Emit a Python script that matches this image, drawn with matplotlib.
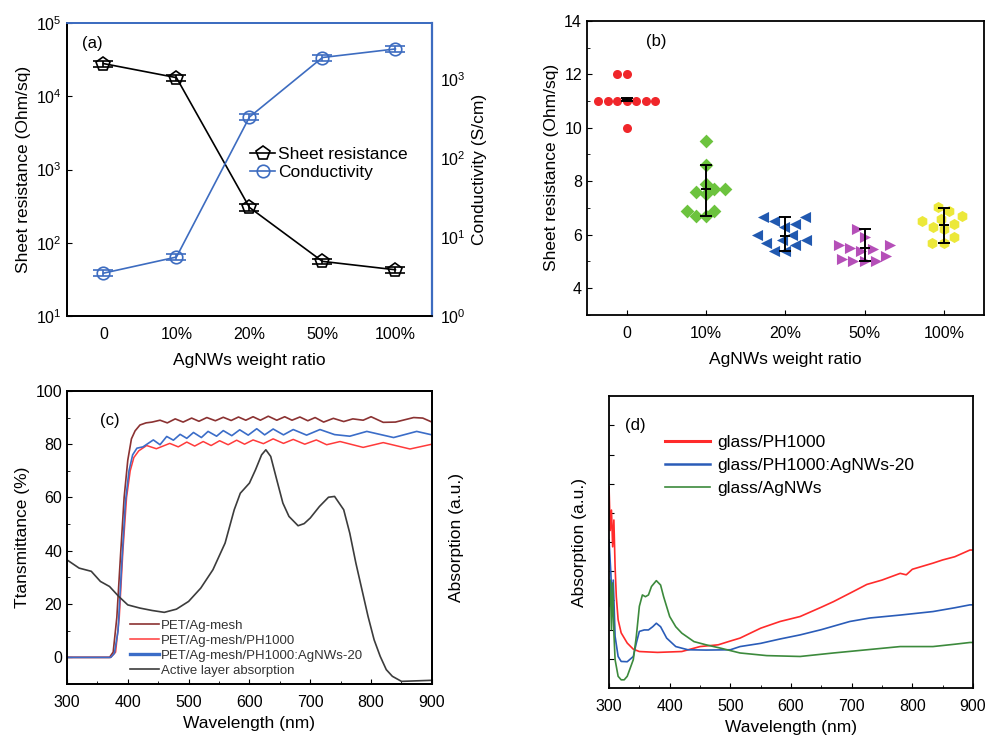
import numpy as np
import matplotlib
matplotlib.use('Agg')
import matplotlib.pyplot as plt
from matplotlib.ticker import MultipleLocator, NullLocator
from matplotlib.lines import Line2D
import seaborn as sns

plt.rcParams['font.family'] = ['Liberation Sans', 'DejaVu Sans']
plt.rcParams['axes.linewidth'] = 1.3
plt.rcParams['xtick.direction'] = 'in'
plt.rcParams['ytick.direction'] = 'in'
plt.rcParams['xtick.labelsize'] = 11.5
plt.rcParams['ytick.labelsize'] = 11.5
plt.rcParams['axes.labelsize'] = 12.5

# ---- (a) sheet resistance / conductivity vs AgNWs ratio ----
ratio_labels = ['0', '10%', '20%', '50%', '100%']
sheet_res = [2.8e4, 1.8e4, 305, 56, 43]
sheet_res_err = [2500, 1600, 30, 5, 4]
conductivity = [3.5, 5.6, 330, 1870, 2400]
conductivity_err = [0.3, 0.5, 30, 170, 220]

# ---- (b) sheet resistance distribution ----
sr_0 = [11, 11, 11, 11, 11, 11, 11, 12, 12, 10]
sr_10 = [9.5, 8.6, 7.9, 7.7, 7.7, 7.6, 7.5, 6.9, 6.9, 6.7, 6.7]
sr_20 = [6.65, 6.65, 6.5, 6.4, 6.3, 6.0, 6.0, 5.8, 5.8, 5.7, 5.6, 5.4, 5.4]
sr_50 = [6.2, 5.9, 5.6, 5.6, 5.5, 5.45, 5.4, 5.2, 5.1, 5.0, 5.0, 5.0]
sr_100 = [7.05, 6.9, 6.7, 6.6, 6.5, 6.4, 6.3, 6.2, 5.9, 5.7, 5.7]
bar_center = [11.05, 7.7, 5.95, 5.5, 6.35]
bar_low = [11.0, 6.7, 5.4, 5.0, 5.7]
bar_high = [11.1, 8.6, 6.65, 6.2, 7.0]

# ---- (c) transmittance spectra + active layer absorption ----
mesh_wl = [300, 370, 376, 382, 388, 394, 400, 406, 412, 420, 430, 440, 453, 465, 478, 491,
           505, 517, 530, 544, 557, 570, 582, 594, 606, 618, 631, 645, 658, 670, 683, 696,
           708, 722, 738, 755, 770, 787, 800, 820, 840, 870, 885, 900]
mesh_T = [0, 0, 2, 15, 38, 60, 74, 82, 85, 87.2, 88, 88.3, 89, 88, 89.5, 88.3,
          89.8, 88.6, 90, 88.8, 90.1, 88.9, 90.2, 89, 90.3, 89, 90.5, 89, 90.3, 89, 90.2, 88.8,
          90, 88.3, 89.7, 88.5, 89.5, 89, 90.3, 88.2, 88.3, 90, 89.8, 88.3]
ph_wl = [300, 372, 380, 386, 392, 398, 404, 410, 418, 431, 447, 469, 483, 497, 510, 524,
         537, 551, 565, 579, 592, 606, 623, 639, 656, 672, 691, 710, 727, 749, 787, 820,
         864, 900]
ph_T = [0, 0, 2, 15, 40, 60, 70, 75, 77.5, 79.5, 78.3, 80.3, 79, 80.8, 79.3, 81,
        79.5, 81.3, 79.8, 81.5, 80, 81.6, 80.2, 82, 80.3, 81.8, 80, 81.6, 79.8, 81, 78.8, 80.6,
        78.2, 80]
nw_wl = [300, 372, 378, 384, 390, 396, 402, 408, 415, 425, 442, 453, 464, 475, 486, 497,
         508, 521, 532, 546, 557, 571, 584, 598, 612, 625, 639, 656, 672, 694, 716, 740,
         765, 793, 837, 875, 900]
nw_T = [0, 0, 1.5, 10, 35, 58, 70, 76, 78.5, 79, 81.6, 79.8, 82.9, 81.5, 83.7, 82.2,
        84.4, 82.5, 84.8, 83, 85.1, 83.2, 85.4, 83.4, 85.8, 83.5, 85.7, 83.5, 85.5, 83.4, 85.5, 83.6,
        83, 84.8, 82.5, 84.8, 83.5]
abs_wl = [300, 320, 340, 355, 370, 385, 400, 420, 440, 460, 480, 500, 520, 540, 560, 575,
          585, 600, 610, 620, 627, 635, 645, 655, 665, 680, 690, 700, 715, 730, 740, 755,
          765, 775, 785, 795, 805, 815, 825, 835, 850, 900]
abs_val = [36.6, 33.5, 32.3, 28.5, 26.6, 22.9, 19.7, 18.5, 17.6, 16.9, 18.1, 21, 26, 32.9, 42.9, 55.4,
           61.6, 65.4, 70.4, 76, 77.9, 75.4, 66.6, 57.9, 52.9, 49.4, 50.2, 52.3, 56.6, 60.1, 60.4, 55.4,
           46.6, 35.4, 25.4, 15.4, 6.6, 0.4, -4.6, -7.1, -9, -8.6]

# ---- (d) absorption spectra ----
pedot_wl = [300, 302, 304, 306, 308, 310, 312, 315, 320, 330, 340, 350, 380, 420, 450, 480,
            500, 516, 550, 582, 615, 650, 670, 700, 725, 750, 780, 790, 800, 834, 850, 870,
            895, 900]
pedot_abs = [69, 54, 61, 48.4, 57.6, 41.6, 31.3, 23.4, 18.9, 15.4, 13.3, 12.5, 12.2, 12.5, 14.2, 14.8,
             16.1, 17.1, 20.5, 22.8, 24.5, 27.7, 29.6, 32.8, 35.5, 37, 39.3, 38.8, 40.7, 42.8, 43.9, 45,
             47.3, 47.3]
mix_wl = [300, 303, 305, 307, 310, 315, 320, 330, 340, 345, 350, 358, 365, 372, 378, 385,
          395, 410, 430, 460, 500, 516, 550, 582, 615, 650, 697, 730, 780, 834, 870, 895, 900]
mix_abs = [50.7, 39.4, 28, 37, 17.7, 10.8, 9.1, 9, 10.8, 15.4, 19.4, 19.9, 19.9, 21, 22.2, 21,
           17.1, 14.2, 13.1, 13, 13.1, 14.2, 15.3, 16.8, 18.2, 20, 22.8, 24, 25, 26.2, 27.5, 28.5, 28.5]
agnw_wl = [300, 302, 304, 306, 308, 310, 315, 320, 325, 330, 340, 345, 350, 355, 360, 365,
           370, 378, 385, 390, 400, 410, 420, 440, 460, 483, 516, 560, 615, 670, 725, 780,
           834, 870, 895, 900]
agnw_abs = [28, 37, 20, 36, 19, 9.7, 4, 2.8, 2.8, 4, 9.7, 17.7, 28, 31.9, 31.3, 31.9,
            34.8, 36.8, 35.3, 31.3, 24.5, 21, 18.8, 15.9, 14.8, 13.7, 12, 11.1, 10.8, 12, 13.1, 14.2,
            14.2, 15, 15.6, 15.6]

fig = plt.figure(figsize=(9.89, 7.44), dpi=100)
ax_a = fig.add_axes([0.0677, 0.575, 0.369, 0.394])
ax_b = fig.add_axes([0.5935, 0.577, 0.401, 0.395])
ax_c = fig.add_axes([0.0677, 0.0806, 0.369, 0.394])
ax_d = fig.add_axes([0.6158, 0.0753, 0.368, 0.392])

blue_a = '#3d6cc0'
x = np.arange(len(ratio_labels))

# (a)
ax = ax_a
ax.errorbar(x, sheet_res, yerr=sheet_res_err, color='k', marker='p', ms=10,
            mfc='none', mec='k', mew=1.2, lw=1.2, capsize=7, elinewidth=1.2)
ax.set_yscale('log')
ax.set_ylim(10, 1e5)
ax.yaxis.set_minor_locator(NullLocator())
ax.set_xlim(-0.5, 4.5)
ax.set_xticks(x)
ax.set_xticklabels(ratio_labels)
ax.set_xlabel('AgNWs weight ratio', labelpad=8)
ax.set_ylabel('Sheet resistance (Ohm/sq)')
ax.tick_params(axis='x', length=0, pad=8)
ax.spines['top'].set_color(blue_a)
ax.text(0.04, 0.93, '(a)', transform=ax.transAxes, fontsize=12, va='center')
ax2 = ax.twinx()
ax2.errorbar(x, conductivity, yerr=conductivity_err, color=blue_a, marker='o', ms=9,
             mfc='none', mec=blue_a, mew=1.2, lw=1.2, capsize=7, elinewidth=1.2)
ax2.set_yscale('log')
ax2.set_ylim(1, 5100)
ax2.yaxis.set_minor_locator(NullLocator())
ax2.tick_params(axis='y', length=0, pad=6)
ax2.spines['right'].set_color(blue_a)
ax2.spines['top'].set_color(blue_a)
ax2.spines['right'].set_linewidth(1.6)
ax2.set_ylabel('Conductivity (S/cm)')
h1 = Line2D([], [], color='k', marker='p', ms=10, mfc='none', mew=1.2, lw=1.2)
h2 = Line2D([], [], color=blue_a, marker='o', ms=9, mfc='none', mew=1.2, lw=1.2)
ax.legend([h1, h2], ['Sheet resistance', 'Conductivity'], loc='upper left',
          bbox_to_anchor=(0.46, 0.63), frameon=False, fontsize=12.5,
          handlelength=1.4, handletextpad=0.2, labelspacing=0.15)

# (b)
ax = ax_b
ax.set_ylim(3, 14)
groups = [sr_0, sr_10, sr_20, sr_50, sr_100]
colors_b = ['#f0262a', '#6cc33e', '#2159b0', '#b54fb8', '#ece83a']
markers_b = ['o', 'D', '<', '>', 'h']
sizes_b = [6.5, 7, 8, 8, 8]
for lab, vals, c, m, s in zip(ratio_labels, groups, colors_b, markers_b, sizes_b):
    sns.swarmplot(x=[lab] * len(vals), y=vals, order=ratio_labels, color=c,
                  marker=m, size=s, linewidth=0, ax=ax, warn_thresh=1)
ctr = np.array(bar_center)
ax.errorbar(x, ctr, yerr=[ctr - np.array(bar_low), np.array(bar_high) - ctr],
            fmt='none', ecolor='k', elinewidth=1.4, capsize=4, capthick=1.4, zorder=5)
ax.plot(x, ctr, 'k_', ms=7, mew=1.4, zorder=6)
ax.set_xlim(-0.5, 4.5)
ax.set_ylim(3, 14)
ax.set_yticks([4, 6, 8, 10, 12, 14])
ax.yaxis.set_minor_locator(MultipleLocator(1))
ax.set_xticks(x)
ax.set_xticklabels(ratio_labels)
ax.tick_params(axis='x', pad=8)
ax.set_xlabel('AgNWs weight ratio', labelpad=8)
ax.set_ylabel('Sheet resistance (Ohm/sq)')
ax.text(0.15, 0.93, '(b)', transform=ax.transAxes, fontsize=12, va='center')

# (c)
ax = ax_c
ax.plot(mesh_wl, mesh_T, color='#8b3232', lw=1.2, label='PET/Ag-mesh')
ax.plot(ph_wl, ph_T, color='#ff3b3b', lw=1.1, label='PET/Ag-mesh/PH1000')
ax.plot(nw_wl, nw_T, color='#3b6dc8', lw=1.2, label='PET/Ag-mesh/PH1000:AgNWs-20')
ax.plot(abs_wl, abs_val, color='#3c3c3c', lw=1.2, label='Active layer absorption')
ax.set_xlim(300, 900)
ax.set_ylim(-10, 100)
ax.set_yticks([0, 20, 40, 60, 80, 100])
ax.xaxis.set_minor_locator(MultipleLocator(50))
ax.yaxis.set_minor_locator(MultipleLocator(10))
ax.tick_params(axis='x', pad=8)
ax.set_xlabel('Wavelength (nm)')
ax.set_ylabel('Ttansmittance (%)')
ax.text(0.09, 0.9, '(c)', transform=ax.transAxes, fontsize=12, va='center')
leg = ax.legend(loc='lower left', bbox_to_anchor=(0.14, -0.015), frameon=False,
                fontsize=9.5, handlelength=2.2, handletextpad=0.15, labelspacing=0.2)
leg.get_lines()[2].set_linewidth(2.4)
for t in leg.get_texts():
    t.set_color('#333333')
axc2 = ax.twinx()
axc2.set_yticks([])
axc2.set_ylabel('Absorption (a.u.)', labelpad=12)

# (d)
ax = ax_d
ax.plot(pedot_wl, pedot_abs, color='#ff2b2b', lw=1.2, label='glass/PH1000')
ax.plot(mix_wl, mix_abs, color='#2a5cb8', lw=1.2, label='glass/PH1000:AgNWs-20')
ax.plot(agnw_wl, agnw_abs, color='#3c8a3c', lw=1.2, label='glass/AgNWs')
ax.set_xlim(300, 900)
ax.set_ylim(0, 100)
ax.set_yticks(np.arange(10, 100, 10))
ax.set_yticklabels([])
ax.xaxis.set_minor_locator(MultipleLocator(50))
ax.tick_params(axis='x', pad=8)
ax.set_xlabel('Wavelength (nm)')
ax.set_ylabel('Absorption (a.u.)', labelpad=12)
ax.text(0.045, 0.9, '(d)', transform=ax.transAxes, fontsize=12, va='center')
leg = ax.legend(loc='upper left', bbox_to_anchor=(0.11, 0.92), frameon=False,
                fontsize=12.5, handlelength=2.6, handletextpad=0.4, labelspacing=0.45)
leg.get_lines()[0].set_linewidth(2.2)
leg.get_lines()[1].set_linewidth(1.8)

plt.savefig('out.png', dpi=100)
